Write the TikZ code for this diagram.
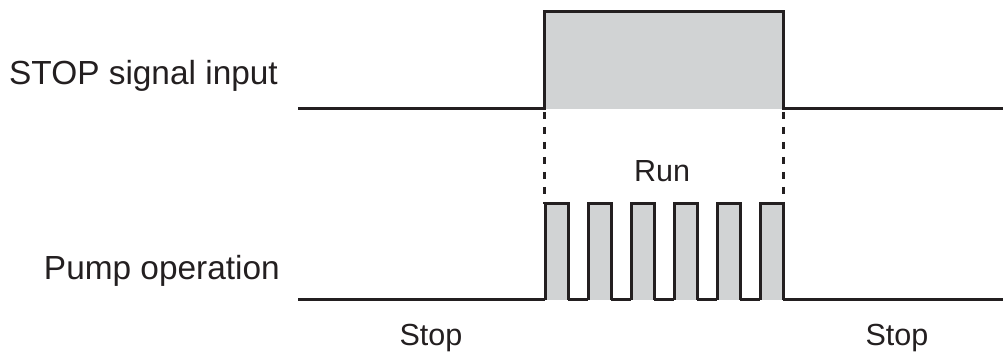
\documentclass[tikz,border=0pt]{standalone}
\usepackage{fontspec}
\setmainfont{Liberation Sans}
\usetikzlibrary{positioning}
\definecolor{pulsegray}{HTML}{D1D3D4}
\definecolor{inkblack}{HTML}{231F20}
\tikzset{wave/.style = {draw=inkblack, line width=3pt, line join=miter}}
\tikzset{guide/.style = {draw=inkblack, line width=3pt, dash pattern=on 7pt off 8pt}}
\tikzset{lbl/.style = {inner sep=0pt, text=inkblack, font=\fontsize{33.4}{40}\selectfont}}
\tikzset{tag/.style = {inner sep=0pt, text=inkblack, font=\fontsize{30.5}{36}\selectfont}}

\begin{document}
\begin{tikzpicture}[x=1pt, y=-1pt]
\useasboundingbox (0, 0) rectangle (1003, 352);
% time marks
\coordinate (on) at (544, 0);
\coordinate (off) at (783, 0);
% STOP signal input
\fill [pulsegray] (on |- 0, 12) rectangle (off |- 0, 109);
\draw [wave] (298, 109) -- (on |- 0, 109) -- (on |- 0, 12) -- (off |- 0, 12) -- (off |- 0, 109) -- (1003, 109);
% pump pulses
\foreach \x in {545, 588, 631, 674, 717, 760} {
  \fill [pulsegray] (\x, 204) rectangle (\x + 23, 300);
  \draw [wave] (\x, 300) -- (\x, 204) -- (\x + 23, 204) -- (\x + 23, 300);
}
\draw [wave] (298, 300) -- (545, 300);
\draw [wave] (568, 300) -- (588, 300);
\draw [wave] (611, 300) -- (631, 300);
\draw [wave] (654, 300) -- (674, 300);
\draw [wave] (697, 300) -- (717, 300);
\draw [wave] (740, 300) -- (760, 300);
\draw [wave] (783, 300) -- (1003, 300);
% guides
\draw [guide] (on |- 0, 112) -- (on |- 0, 204);
\draw [guide] (off |- 0, 112) -- (off |- 0, 204);
% labels
\node [lbl, anchor=base east] (stopin) at (278, 85) {STOP signal input};
\node [lbl, anchor=base east] (pump) at (280, 280) {Pump operation};
\node [tag, anchor=base] (run) at (662, 182) {Run};
\node [tag, anchor=base] (stopa) at (431, 345) {Stop};
\node [tag, anchor=base] (stopb) at (897, 345) {Stop};
\end{tikzpicture}
\end{document}
